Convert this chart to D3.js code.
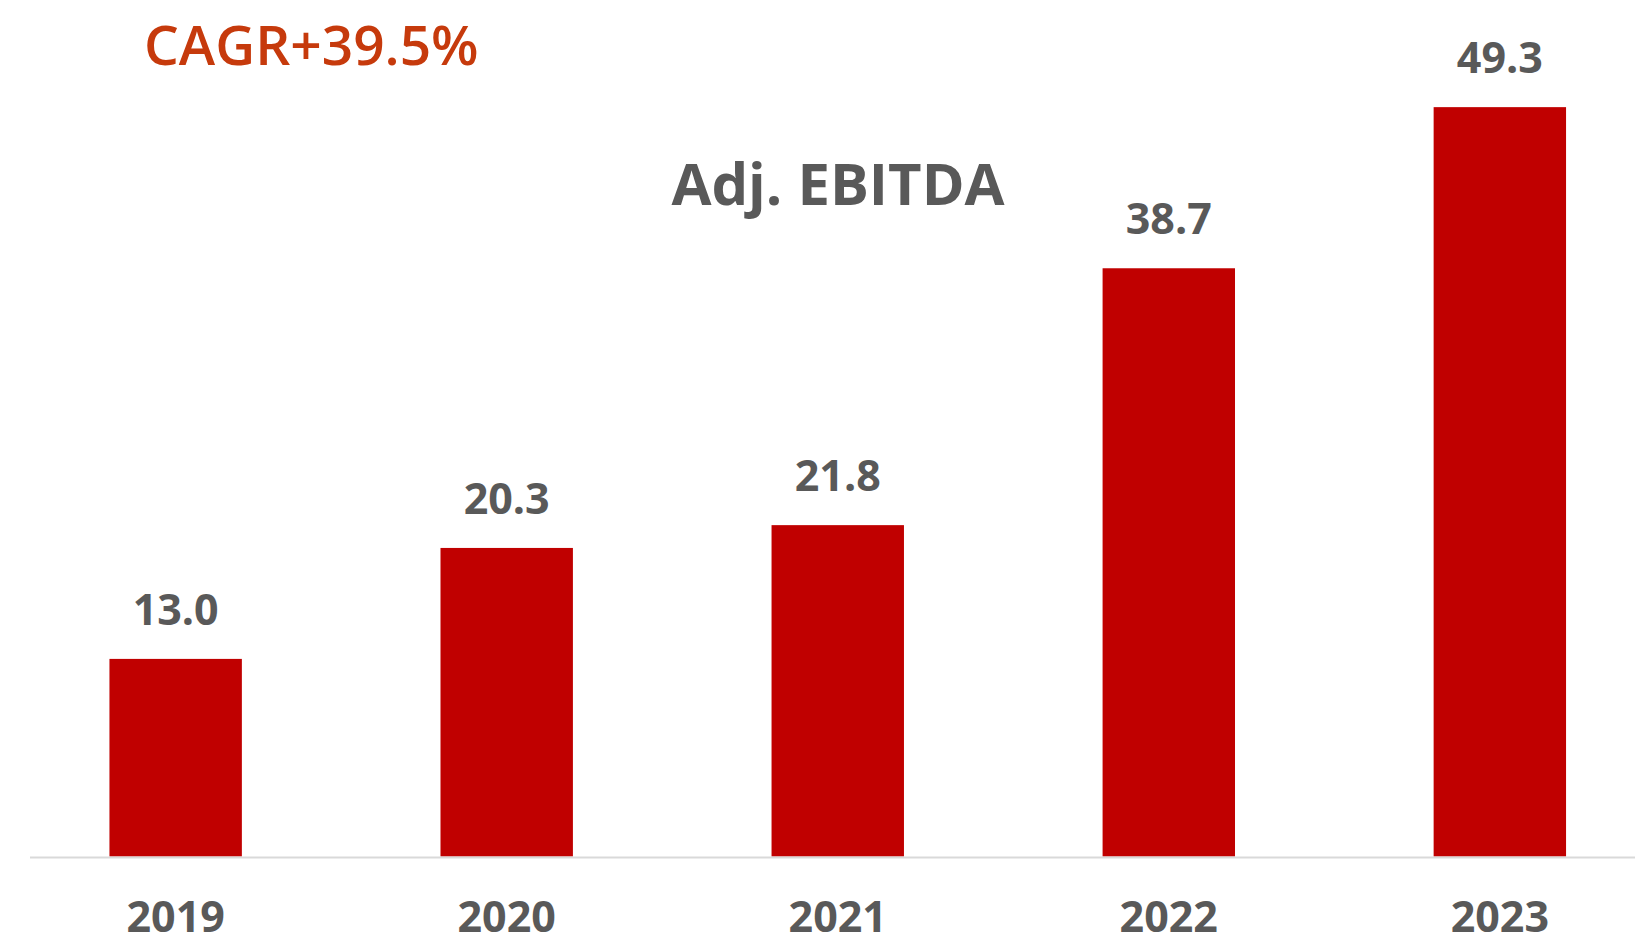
<!DOCTYPE html>
<html>
<head>
<meta charset="utf-8">
<script src="https://cdn.jsdelivr.net/npm/d3@7"></script>
<style>
  html, body { margin: 0; padding: 0; background: #fff; }
  svg { display: block; font-family: "Open Sans", "Noto Sans", sans-serif; }
</style>
</head>
<body>
<svg id="chart"></svg>
<script>
const years = ['2019', '2020', '2021', '2022', '2023'];
const ebitda = [13.0, 20.3, 21.8, 38.7, 49.3];
const valueLabels = ['13.0', '20.3', '21.8', '38.7', '49.3'];
const chartTitle = 'Adj. EBITDA';
const cagrNote = 'CAGR+39.5%';

const W = 1635, H = 945;
const baseY = 856.5;

const svg = d3.select('#chart')
  .attr('width', W)
  .attr('height', H);

const x = d3.scaleBand()
  .domain(years)
  .range([30, 1645.5])
  .paddingInner(0.6)
  .paddingOuter(0.24);

const y = d3.scaleLinear()
  .domain([0, 55])
  .range([baseY, baseY - 55 * 15.2]);

const data = years.map((yr, i) => ({ year: yr, value: ebitda[i], label: valueLabels[i] }));

// bars
svg.selectAll('.bar')
  .data(data)
  .enter().append('rect')
  .attr('class', 'bar')
  .attr('x', d => x(d.year))
  .attr('y', d => y(d.value))
  .attr('width', x.bandwidth())
  .attr('height', d => y(0) - y(d.value))
  .attr('fill', '#C00000');

// baseline
svg.append('line')
  .attr('x1', 30)
  .attr('x2', W)
  .attr('y1', y(0) + 1)
  .attr('y2', y(0) + 1)
  .attr('stroke', '#D9D9D9')
  .attr('stroke-width', 2);

// value labels
svg.selectAll('.val')
  .data(data)
  .enter().append('text')
  .attr('class', 'val')
  .attr('x', d => x(d.year) + x.bandwidth() / 2)
  .attr('y', d => y(d.value) - 34)
  .attr('text-anchor', 'middle')
  .attr('fill', '#595959')
  .style('font-size', '43px')
  .style('font-weight', 700)
  .text(d => d.label);

// category labels
svg.selectAll('.cat')
  .data(years)
  .enter().append('text')
  .attr('class', 'cat')
  .attr('x', d => x(d) + x.bandwidth() / 2)
  .attr('y', 932)
  .attr('text-anchor', 'middle')
  .attr('fill', '#595959')
  .style('font-size', '43px')
  .style('font-weight', 700)
  .text(d => d);

// title
svg.append('text')
  .attr('x', 838)
  .attr('y', 205)
  .attr('text-anchor', 'middle')
  .attr('fill', '#595959')
  .style('font-size', '58px')
  .style('font-weight', 700)
  .text(chartTitle);

// CAGR note
svg.append('text')
  .attr('x', 144)
  .attr('y', 65)
  .attr('fill', '#C63A0C')
  .style('font-size', '55px')
  .style('font-weight', 600)
  .text(cagrNote);
</script>
</body>
</html>
